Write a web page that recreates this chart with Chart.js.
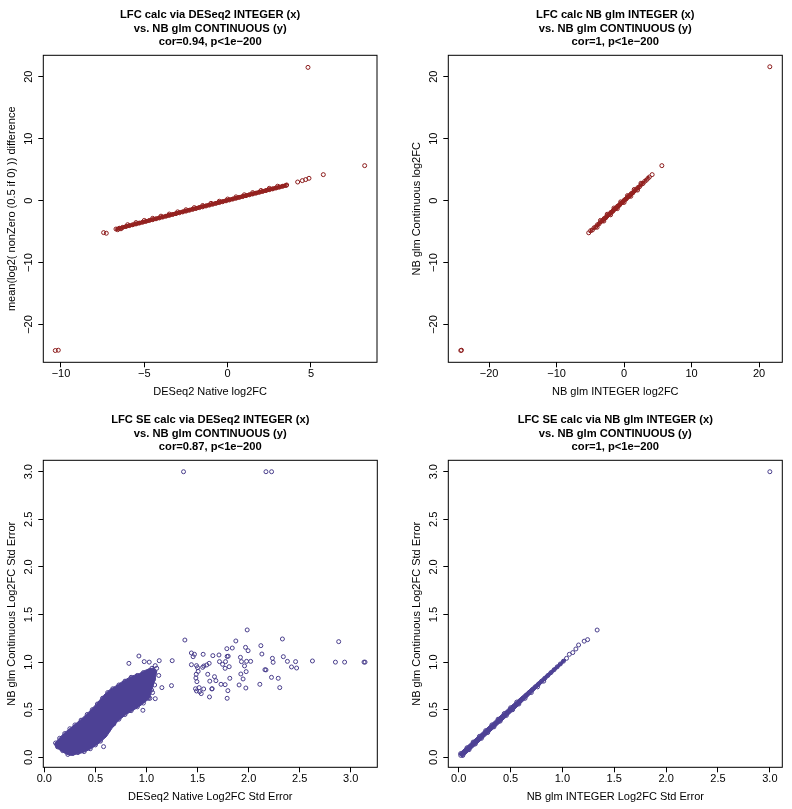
<!DOCTYPE html>
<html>
<head>
<meta charset="utf-8">
<script src="https://cdn.jsdelivr.net/npm/chart.js@4.4.1/dist/chart.umd.min.js"></script>
<style>
  body { margin: 0; background: #fff; }
  #wrap { position: relative; width: 792px; height: 809px; }
  canvas { position: absolute; }
</style>
</head>
<body>
<div id="wrap">
  <canvas id="c1" width="396" height="404" style="left:0;top:0"></canvas>
  <canvas id="c2" width="396" height="404" style="left:396px;top:0"></canvas>
  <canvas id="c3" width="396" height="404" style="left:0;top:405px"></canvas>
  <canvas id="c4" width="396" height="404" style="left:396px;top:405px"></canvas>
</div>
<script>
// ---- data ----
// outlines of the overplotted (solid) parts of each cloud
const nativeLfcCore = [[-6.7,-4.38],[-2.0,-1.05],[3.5,2.72],[3.5,2.2],[-2.0,-1.55],[-6.7,-4.85],[-6.7,-4.38]];
const integerLfcCore = [[-5.2,-5.2],[-3.0,-2.6],[1.0,1.4],[3.7,3.8],[1.4,1.0],[-2.6,-3.0],[-5.2,-5.2]];
const nativeSeCore = [
  [0.1,0.14],[0.12,0.17],[0.19,0.25],[0.27,0.32],[0.35,0.39],[0.43,0.47],[0.51,0.56],[0.58,0.65],
  [0.64,0.71],[0.7,0.75],[0.77,0.8],[0.85,0.85],[0.93,0.88],[1.0,0.92],[1.07,0.94],[1.1,0.9],
  [1.08,0.8],[1.05,0.7],[1.03,0.62],[0.95,0.55],[0.88,0.5],[0.8,0.45],[0.72,0.38],[0.66,0.3],
  [0.61,0.22],[0.55,0.16],[0.5,0.12],[0.44,0.08],[0.38,0.05],[0.3,0.03],[0.26,0.02],[0.22,0.03],
  [0.16,0.07],[0.11,0.11],[0.1,0.14]
];
const integerSeCore = [[0.0,0.035],[0.5,0.535],[1.02,1.035],[1.035,1.02],[0.535,0.5],[0.035,0.0],[0.0,0.035]];

const nativeLfc = [
  [-6.7,-4.59],[-6.6,-4.7],[-6.5,-4.46],[-6.4,-4.55],[-6.3,-4.32],[-6.1,-4.18],[-5.9,-4.04],[-5.7,-3.9],
  [-5.5,-3.77],[-5.3,-3.63],[-5.1,-3.49],[-4.9,-3.35],[-4.7,-3.21],[-4.5,-3.08],[-4.3,-2.94],[-4.1,-2.8],
  [-3.9,-2.66],[-3.7,-2.52],[-3.5,-2.39],[-3.3,-2.25],[-3.1,-2.11],[-2.9,-1.97],[-2.7,-1.83],[-2.5,-1.7],
  [-2.3,-1.56],[-2.1,-1.42],[-1.9,-1.28],[-1.7,-1.14],[-1.5,-1.01],[-1.3,-0.87],[-1.1,-0.73],[-0.9,-0.59],
  [-0.7,-0.45],[-0.5,-0.32],[-0.3,-0.18],[-0.1,-0.04],[0.1,0.1],[0.3,0.24],[0.5,0.38],[0.7,0.51],
  [0.9,0.65],[1.1,0.79],[1.3,0.93],[1.5,1.07],[1.7,1.2],[1.9,1.34],[2.1,1.48],[2.3,1.62],
  [2.5,1.76],[2.7,1.89],[2.9,2.03],[3.1,2.17],[3.3,2.31],[3.5,2.45],
  [-6.0,-3.89],[-5.5,-3.55],[-5.0,-3.2],[-4.5,-2.86],[-4.0,-2.51],[-3.5,-2.17],[-3.0,-1.82],[-2.5,-1.48],
  [-2.0,-1.13],[-1.5,-0.79],[-1.0,-0.44],[-0.5,-0.1],[0.0,0.25],[0.5,0.6],[1.0,0.94],[1.5,1.29],
  [2.0,1.63],[2.5,1.98],[3.0,2.32],
  [-10.34,-24.2],[-10.16,-24.15],[-7.44,-5.17],[-7.28,-5.27],[3.54,2.52],[4.2,3.0],[4.48,3.22],
  [4.68,3.39],[4.88,3.6],[5.74,4.19],[8.22,5.64],[4.82,21.5]
];
const integerLfc = [
  [-5.24,-5.2],[-4.95,-4.85],[-4.7,-4.75],[-4.45,-4.4],[-4.2,-4.25],[-3.95,-3.9],[-3.7,-3.75],[-3.45,-3.4],
  [-3.2,-3.25],[-2.95,-2.9],[-2.7,-2.75],[-2.45,-2.4],[-2.2,-2.25],[-1.95,-1.9],[-1.7,-1.75],[-1.45,-1.4],
  [-1.2,-1.25],[-0.95,-0.9],[-0.7,-0.75],[-0.45,-0.4],[-0.2,-0.25],[0.05,0.1],[0.3,0.25],[0.55,0.6],
  [0.8,0.75],[1.05,1.1],[1.3,1.25],[1.55,1.6],[1.8,1.75],[2.05,2.1],[2.3,2.25],[2.55,2.6],
  [2.8,2.75],[3.05,3.1],[3.3,3.3],[3.55,3.6],
  [-4.0,-4.3],[-3.0,-3.3],[-2.0,-2.3],[-1.0,-1.3],[0.0,-0.3],[1.0,0.7],[2.0,1.7],
  [-3.5,-3.2],[-2.5,-2.2],[-1.5,-1.2],[-0.5,-0.2],[0.5,0.8],[1.5,1.8],[2.5,2.8],
  [3.75,3.8],[4.16,4.19],[5.6,5.64],[21.6,21.6],[-24.2,-24.2],[-24.1,-24.15]
];
const nativeSe = [
  [0.11,0.15],[0.15,0.2],[0.2,0.25],[0.25,0.3],[0.3,0.34],[0.36,0.39],[0.42,0.45],[0.47,0.5],
  [0.52,0.56],[0.57,0.62],[0.62,0.68],[0.67,0.72],[0.73,0.76],[0.79,0.8],[0.85,0.84],[0.91,0.86],
  [0.97,0.89],[1.03,0.91],[1.08,0.9],
  [0.13,0.11],[0.18,0.07],[0.23,0.03],[0.28,0.04],[0.33,0.05],[0.39,0.06],[0.45,0.09],[0.5,0.13],
  [0.55,0.17],[0.59,0.23],[0.63,0.29],[0.68,0.35],[0.73,0.4],[0.79,0.45],[0.85,0.49],[0.91,0.53],
  [0.97,0.57],[1.02,0.62],[1.06,0.68],[1.08,0.76],
  [0.828,0.987],[0.926,1.064],[0.978,1.005],[1.027,1.0],[1.125,1.015],[1.086,0.963],[1.1,0.935],
  [1.053,0.935],[1.151,0.732],[1.086,0.616],[1.034,0.62],[0.965,0.494],[0.58,0.112],[1.0,0.655],
  [0.936,0.69],[1.05,0.707],[1.12,0.86],[1.07,0.82],
  [1.363,3.0],[2.17,3.0],[2.225,3.0],[1.376,1.232],[1.986,1.338],[2.331,1.243],[2.882,1.215],
  [3.13,1.0],[3.14,1.0],[2.94,1.0],[2.85,1.0],[2.625,1.012],[2.46,1.005],[2.47,0.938],[2.42,0.949],
  [2.38,1.008],[2.34,1.057],[2.233,1.04],[2.24,0.998],[2.16,0.92],[2.17,0.918],[2.12,1.173],
  [2.13,1.085],[2.224,0.84],[2.29,0.83],[2.305,0.732],[2.11,0.767],[2.02,1.008],[1.98,1.008],
  [1.97,1.155],[1.995,1.12],[1.875,1.222],[1.84,1.148],[1.787,1.141],[1.92,1.05],[1.93,1.005],
  [1.96,0.96],[1.976,0.9],[1.946,0.823],[1.924,0.875],[1.973,0.728],[1.907,0.76],[1.79,1.06],
  [1.8,1.062],[1.71,1.075],[1.715,1.005],[1.745,0.977],[1.77,0.935],[1.774,1.005],[1.81,0.952],
  [1.816,0.83],[1.77,0.763],[1.797,0.7],[1.79,0.62],[1.73,0.767],[1.68,0.805],[1.666,0.847],
  [1.643,0.721],[1.617,0.634],[1.614,0.987],[1.59,0.97],[1.562,0.959],[1.55,0.945],[1.6,0.872],
  [1.62,0.8],[1.64,0.718],[1.555,1.082],[1.65,1.068],[1.47,1.082],[1.457,1.057],[1.44,0.973],
  [1.49,0.963],[1.5,0.942],[1.506,0.903],[1.487,0.872],[1.484,0.833],[1.494,0.795],[1.48,0.72],
  [1.516,0.732],[1.49,0.697],[1.52,0.69],[1.56,0.718],[1.536,0.669],[1.252,1.015],[1.245,0.753],
  [1.44,1.096]
];
const integerSe = [
  [0.02,0.02],[0.05,0.05],[0.08,0.08],[0.11,0.11],[0.14,0.14],[0.17,0.17],[0.2,0.2],[0.23,0.23],
  [0.26,0.26],[0.29,0.29],[0.32,0.32],[0.35,0.35],[0.38,0.38],[0.41,0.41],[0.44,0.44],[0.47,0.47],
  [0.5,0.5],[0.53,0.53],[0.56,0.56],[0.59,0.59],[0.62,0.62],[0.65,0.65],[0.68,0.68],[0.71,0.71],
  [0.74,0.74],[0.77,0.77],[0.8,0.8],[0.83,0.83],[0.86,0.86],[0.89,0.89],[0.92,0.92],[0.95,0.95],
  [0.98,0.98],[1.01,1.01],[1.04,1.04],
  [0.04,0.02],[0.1,0.08],[0.16,0.14],[0.22,0.2],[0.28,0.26],[0.34,0.32],[0.4,0.38],[0.46,0.44],
  [0.52,0.5],[0.58,0.56],[0.64,0.62],[0.7,0.68],[0.76,0.74],[0.82,0.8],
  [0.02,0.04],[0.08,0.1],[0.14,0.16],[0.2,0.22],[0.26,0.28],[0.32,0.34],[0.38,0.4],[0.44,0.46],
  [0.5,0.52],[0.56,0.58],
  [1.067,1.082],[1.1,1.1],[1.13,1.138],[1.156,1.18],[1.21,1.22],[1.243,1.236],[1.335,1.337],[3.0,3.0]
];

const lfcTicksNative = [-10, -5, 0, 5];
const lfcTicksWide = [-20, -10, 0, 10, 20];
const seTicks = [0, 0.5, 1, 1.5, 2, 2.5, 3];

const titles = [
  ['LFC calc via DESeq2 INTEGER (x)', 'vs. NB glm CONTINUOUS (y)', 'cor=0.94, p<1e\u2212200'],
  ['LFC calc NB glm INTEGER (x)', 'vs. NB glm CONTINUOUS (y)', 'cor=1, p<1e\u2212200'],
  ['LFC SE calc via DESeq2 INTEGER (x)', 'vs. NB glm CONTINUOUS (y)', 'cor=0.87, p<1e\u2212200'],
  ['LFC SE calc via NB glm INTEGER (x)', 'vs. NB glm CONTINUOUS (y)', 'cor=1, p<1e\u2212200']
];
const xLabels = ['DESeq2 Native log2FC', 'NB glm INTEGER log2FC',
  'DESeq2 Native Log2FC Std Error', 'NB glm INTEGER Log2FC Std Error'];
const yLabels = ['mean(log2( nonZero (0.5 if 0) )) difference', 'NB glm Continuous log2FC',
  'NB glm Continuous Log2FC Std Error', 'NB glm Continuous Log2FC Std Error'];

const RED = '#8B1A1A';
const RED_CORE = '#94211F';
const PURPLE = '#483D8B';
const PURPLE_CORE = '#4D4195';
const FONT = "'Liberation Sans', Arial, sans-serif";

Chart.defaults.color = '#000';
Chart.defaults.font.family = FONT;
Chart.defaults.font.size = 11;

const fmtInt = v => String(v).replace('-', '\u2212');
const fmtDec = v => v.toFixed(1);

// R-style box, main title and rotated y tick labels
const rStyle = {
  id: 'rStyle',
  afterDraw(chart, args, opts) {
    const { ctx, chartArea: a } = chart;
    ctx.save();
    ctx.strokeStyle = '#000';
    ctx.lineWidth = 1;
    ctx.strokeRect(a.left, a.top, a.right - a.left, a.bottom - a.top);
    ctx.fillStyle = '#000';
    ctx.textAlign = 'center';
    ctx.textBaseline = 'middle';
    ctx.font = 'bold 11.2px ' + FONT;
    const cx = (a.left + a.right) / 2;
    [40.3, 26, 13].forEach((d, i) => ctx.fillText(opts.title[i], cx, a.top - d));
    ctx.font = '11px ' + FONT;
    const ys = chart.scales.y;
    opts.yTicks.forEach(v => {
      ctx.save();
      ctx.translate(a.left - 14, ys.getPixelForValue(v));
      ctx.rotate(-Math.PI / 2);
      ctx.fillText(opts.yFmt(v), 0, 0);
      ctx.restore();
    });
    ctx.restore();
  }
};

function panel(id, p) {
  const datasets = [{
    data: p.core, showLine: true, fill: 'shape', tension: 0,
    backgroundColor: p.coreColor, borderColor: p.coreColor, borderWidth: 1, pointRadius: 0
  }, {
    data: p.data, pointRadius: 2, borderWidth: 1,
    borderColor: p.color, backgroundColor: 'rgba(0,0,0,0)'
  }];
  const grid = { display: true, drawOnChartArea: false, drawTicks: true, tickLength: 5, color: '#000', lineWidth: 1 };
  return new Chart(document.getElementById(id), {
    type: 'scatter',
    data: { datasets },
    options: {
      responsive: false,
      animation: false,
      events: [],
      layout: { padding: { top: 55.3, left: 0, right: p.padRight, bottom: 0 } },
      plugins: {
        legend: { display: false },
        tooltip: { enabled: false },
        rStyle: { title: p.title, yTicks: p.yTicks, yFmt: p.yFmt }
      },
      scales: {
        x: {
          type: 'linear', min: p.xMin, max: p.xMax,
          afterBuildTicks: s => { s.ticks = p.xTicks.map(v => ({ value: v })); },
          afterFit: s => { s.height = 41.7; },
          ticks: { padding: 0, maxRotation: 0, autoSkip: false, callback: v => p.xFmt(v), font: { size: 11 } },
          grid, border: { display: false },
          title: { display: true, text: p.xLabel, font: { size: 11 }, padding: { top: 0, bottom: 5.4 } }
        },
        y: {
          type: 'linear', min: p.yMin, max: p.yMax,
          afterBuildTicks: s => { s.ticks = p.yTicks.map(v => ({ value: v })); },
          afterFit: s => { s.width = p.boxLeft; },
          ticks: { display: false },
          grid, border: { display: false },
          title: { display: true, text: p.yLabel, font: { size: 11 }, padding: { top: p.yTitlePad, bottom: 0 } }
        }
      }
    },
    plugins: [rStyle]
  });
}

panel('c1', {
  data: nativeLfc, core: nativeLfcCore, color: RED, coreColor: RED_CORE,
  title: titles[0], xLabel: xLabels[0], yLabel: yLabels[0],
  xMin: -11.06, xMax: 8.96, yMin: -26.1, yMax: 23.45,
  xTicks: lfcTicksNative, yTicks: lfcTicksWide, xFmt: fmtInt, yFmt: fmtInt,
  boxLeft: 43.3, padRight: 19, yTitlePad: 5.1
});
panel('c2', {
  data: integerLfc, core: integerLfcCore, color: RED, coreColor: RED_CORE,
  title: titles[1], xLabel: xLabels[1], yLabel: yLabels[1],
  xMin: -26.05, xMax: 23.45, yMin: -26.1, yMax: 23.45,
  xTicks: lfcTicksWide, yTicks: lfcTicksWide, xFmt: fmtInt, yFmt: fmtInt,
  boxLeft: 52.3, padRight: 9.7, yTitlePad: 14.1
});
panel('c3', {
  data: nativeSe, core: nativeSeCore, color: PURPLE, coreColor: PURPLE_CORE,
  title: titles[2], xLabel: xLabels[2], yLabel: yLabels[2],
  xMin: -0.01, xMax: 3.26, yMin: -0.105, yMax: 3.12,
  xTicks: seTicks, yTicks: seTicks, xFmt: fmtDec, yFmt: fmtDec,
  boxLeft: 43.3, padRight: 18.7, yTitlePad: 5.1
});
panel('c4', {
  data: integerSe, core: integerSeCore, color: PURPLE, coreColor: PURPLE_CORE,
  title: titles[3], xLabel: xLabels[3], yLabel: yLabels[3],
  xMin: -0.1, xMax: 3.12, yMin: -0.105, yMax: 3.12,
  xTicks: seTicks, yTicks: seTicks, xFmt: fmtDec, yFmt: fmtDec,
  boxLeft: 52.3, padRight: 9.7, yTitlePad: 14.1
});
</script>
</body>
</html>
